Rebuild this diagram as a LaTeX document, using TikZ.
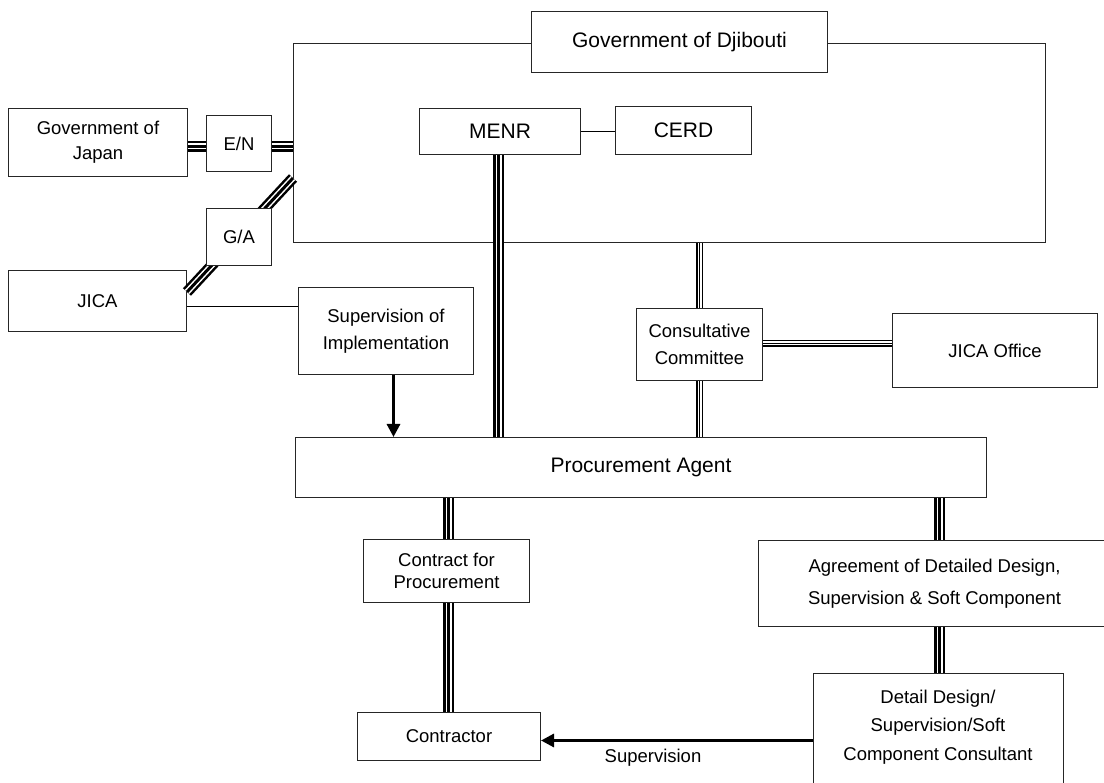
\documentclass[tikz,border=0pt]{standalone}
\usepackage{fontspec}
\setmainfont{Liberation Sans}
\usetikzlibrary{arrows.meta}
\newcommand\flarge{\fontsize{21}{25}\selectfont}
\newcommand\fnormal{\fontsize{18.5}{27}\selectfont}

\begin{document}
\begin{tikzpicture}[x=1pt,y=-1pt,
  box/.style={draw=black!85, line width=1pt, fill=white, inner sep=0pt,
    anchor=north west, align=center, font=\fnormal},
  tline/.style={line width=11pt, postaction={draw=white, line width=6pt},
    postaction={draw=black, line width=3pt}},
  tthin/.style={line width=6.5pt, postaction={draw=white, line width=4pt},
    postaction={draw=black, line width=1.5pt}},
  sarrow/.style={line width=3pt, -{Triangle[length=13pt,width=13pt]}}]
  \clip (0,0) rectangle (1104,783);
  \useasboundingbox (0,0) rectangle (1104,783);

  \node[box, minimum width=752, minimum height=199] (frame) at (293,43) {};
  \node[box, font=\flarge, minimum width=296, minimum height=61] (djib) at (531,11) {Government of Djibouti};
  \node[box, font=\fontsize{18.5}{25}\selectfont, minimum width=179, minimum height=68] (japan) at (8,108) {Government of\\Japan};
  \node[box, minimum width=65, minimum height=56] (en) at (206,115) {E/N};
  \node[box, minimum width=178, minimum height=61] (jica) at (8,270) {JICA};

  \coordinate (gaS) at ([yshift=-22]jica.north east);
  \coordinate (gaE) at ([yshift=-135]frame.north west);
  \draw[tline] (gaS) -- (gaE);
  \node[box, minimum width=65, minimum height=57] (ga) at (206,208) {G/A};

  \node[box, font=\flarge, minimum width=161, minimum height=46] (menr) at (419,108) {MENR};
  \node[box, font=\flarge, minimum width=136, minimum height=48] (cerd) at (615,106) {CERD};
  \node[box, minimum width=175, minimum height=87] (sup) at (298,287) {Supervision of\\Implementation};
  \node[box, minimum width=126, minimum height=72] (cons) at (636,308) {Consultative\\Committee};
  \node[box, minimum width=205, minimum height=74] (jo) at (892,313) {JICA Office};
  \node[box, font=\flarge, minimum width=691, minimum height=60] (proc) at (295,437) {Procurement Agent};
  \node[box, font=\fontsize{18.5}{21.5}\selectfont, minimum width=166, minimum height=63] (cfp) at (363,539) {Contract for\\Procurement};
  \node[box, font=\fontsize{18.5}{32}\selectfont, minimum width=352, minimum height=86] (agr) at (758,540) {Agreement of Detailed Design,\\Supervision \& Soft Component};
  \node[box, minimum width=250, minimum height=130] (ddc) at (813,673) {};
  \node[align=center, font=\fontsize{18.5}{28.5}\selectfont] (ddtxt) at (938,727) {Detail Design/\\Supervision/Soft\\Component Consultant};
  \node[box, minimum width=183, minimum height=48] (ctr) at (357,712) {Contractor};
  \node[font=\fnormal] (suplbl) at (653,758) {Supervision};

  \draw[tline] ([yshift=-3]en.west) -- ([yshift=-3]en.west -| japan.east);
  \draw[tline] ([yshift=-3]en.east) -- ([yshift=-3]en.east -| frame.west);
  \draw[line width=1pt] ([yshift=-5.5]jica.east) -- ([yshift=-5.5]jica.east -| sup.west);
  \draw[line width=1pt] (menr.east) -- (menr.east -| cerd.west);
  \draw[tline] ([xshift=-1.5]menr.south) -- ([xshift=-1.5]menr.south |- proc.north);
  \draw[tthin] (cons.north) -- (cons.north |- frame.south);
  \draw[tthin] (cons.south) -- (cons.south |- proc.north);
  \draw[tthin] ([yshift=1]cons.east) -- ([yshift=1]cons.east -| jo.west);
  \draw[sarrow] ([xshift=7.5]sup.south) -- ([xshift=7.5]sup.south |- proc.north);
  \draw[tline] ([xshift=2]cfp.north) -- ([xshift=2]cfp.north |- proc.south);
  \draw[tline] ([xshift=2]cfp.south) -- ([xshift=2]cfp.south |- ctr.north);
  \draw[tline] ([xshift=5]agr.north) -- ([xshift=5]agr.north |- proc.south);
  \draw[tline] ([xshift=5]agr.south) -- ([xshift=5]agr.south |- ddc.north);
  \draw[sarrow] ([yshift=-4]ctr.east -| ddc.west) -- ([yshift=-4]ctr.east);
\end{tikzpicture}
\end{document}
